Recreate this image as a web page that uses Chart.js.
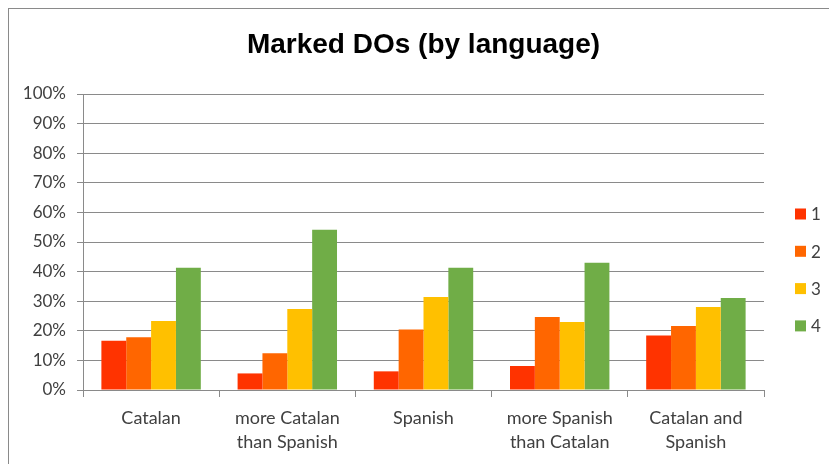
<!DOCTYPE html>
<html>
<head>
<meta charset="utf-8">
<script src="https://cdn.jsdelivr.net/npm/chart.js@4"></script>
<style>
  html, body { margin: 0; padding: 0; background: #fff; }
  #wrap { width: 829px; height: 464px; }
</style>
</head>
<body>
<div id="wrap"><canvas id="doChart" width="829" height="464"></canvas></div>
<script>
const categories = [
  'Catalan',
  ['more Catalan', 'than Spanish'],
  'Spanish',
  ['more Spanish', 'than Catalan'],
  ['Catalan and', 'Spanish']
];
const seriesNames = ['1', '2', '3', '4'];
const series1 = [16.6, 5.6, 6.3, 8.1, 18.4];
const series2 = [17.8, 12.4, 20.4, 24.7, 21.6];
const series3 = [23.3, 27.4, 31.4, 23.0, 28.0];
const series4 = [41.3, 54.1, 41.3, 43.0, 31.1];
const yTicks = [0, 10, 20, 30, 40, 50, 60, 70, 80, 90, 100];

const colors = ['#ff3300', '#ff6600', '#ffc000', '#70ad47'];
const gridGray = '#8a8a8a';
const textGray = '#404040';
const labelFont = 'Lato, "Open Sans", sans-serif';

// outer frame of the chart object
const framePlugin = {
  id: 'frame',
  beforeDraw(chart) {
    const ctx = chart.ctx;
    ctx.save();
    ctx.strokeStyle = gridGray;
    ctx.lineWidth = 1;
    ctx.strokeRect(8.5, 8.5, 900, 900);
    ctx.restore();
  }
};

// legend on the right, one square + label per dataset
const sideLegend = {
  id: 'sideLegend',
  afterDraw(chart) {
    const ctx = chart.ctx;
    ctx.save();
    ctx.font = '17px ' + labelFont;
    ctx.textBaseline = 'middle';
    ctx.textAlign = 'left';
    chart.data.datasets.forEach((ds, i) => {
      const cy = 214 + i * 37.3;
      ctx.fillStyle = ds.backgroundColor;
      ctx.fillRect(795, cy - 5.5, 11, 11);
      ctx.fillStyle = textGray;
      ctx.fillText(ds.label, 811, cy + 1);
    });
    ctx.restore();
  }
};

const ctx = document.getElementById('doChart').getContext('2d');
const allSeries = [series1, series2, series3, series4];

new Chart(ctx, {
  type: 'bar',
  data: {
    labels: categories,
    datasets: allSeries.map((vals, i) => ({
      label: seriesNames[i],
      data: vals,
      backgroundColor: colors[i],
      borderWidth: 0,
      categoryPercentage: 0.73,
      barPercentage: 1.0
    }))
  },
  options: {
    responsive: false,
    animation: false,
    layout: { padding: { left: 0, right: 65, top: 0, bottom: 0 } },
    plugins: {
      legend: { display: false },
      tooltip: { enabled: false },
      title: {
        display: true,
        fullSize: false,
        text: 'Marked DOs (by language)',
        color: '#000',
        font: { family: '"Liberation Sans", Arial, sans-serif', size: 28, weight: 'bold', lineHeight: 1.2 },
        padding: { top: 28, bottom: 32.4 }
      }
    },
    scales: {
      x: {
        grid: {
          offset: true,
          drawOnChartArea: false,
          drawTicks: true,
          tickLength: 7,
          color: gridGray
        },
        border: { color: gridGray },
        ticks: {
          color: textGray,
          padding: 9,
          maxRotation: 0,
          autoSkip: false,
          font: { family: labelFont, size: 18, lineHeight: 1.33 }
        },
        afterFit(scale) { scale.height = 74; }
      },
      y: {
        min: 0,
        max: 100,
        afterBuildTicks(scale) { scale.ticks = yTicks.map(v => ({ value: v })); },
        grid: {
          color: gridGray,
          tickLength: 6,
          drawTicks: true
        },
        border: { color: gridGray },
        ticks: {
          color: textGray,
          padding: 11,
          font: { family: labelFont, size: 17 },
          callback: v => v + '%'
        },
        afterFit(scale) { scale.width = 83; }
      }
    }
  },
  plugins: [framePlugin, sideLegend]
});
</script>
</body>
</html>
